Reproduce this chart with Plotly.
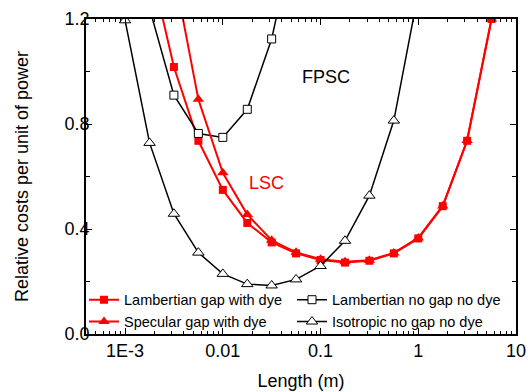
import plotly.graph_objects as go

# ---- data ----
iso_x = [0.001, 0.00178, 0.00316, 0.00562, 0.01, 0.0178, 0.0316, 0.0562, 0.1, 0.178, 0.316, 0.562, 1.0]
iso_y = [1.195, 0.728, 0.458, 0.310, 0.229, 0.190, 0.185, 0.208, 0.259, 0.355, 0.527, 0.813, 1.30]

lam_nogap_x = [0.00178, 0.00316, 0.00562, 0.01, 0.0178, 0.0316, 0.0562]
lam_nogap_y = [1.24, 0.910, 0.764, 0.749, 0.856, 1.124, 1.55]

lam_gap_x = [0.00178, 0.00316, 0.00562, 0.01, 0.0178, 0.0316, 0.0562, 0.1, 0.178, 0.316, 0.562, 1.0, 1.78, 3.16, 5.62]
lam_gap_y = [1.42, 1.017, 0.736, 0.549, 0.423, 0.349, 0.307, 0.282, 0.272, 0.279, 0.307, 0.364, 0.487, 0.736, 1.20]

spec_x = [0.00316, 0.00562, 0.01, 0.0178, 0.0316, 0.0562, 0.1, 0.178, 0.316, 0.562, 1.0, 1.78, 3.16, 5.62]
spec_y = [1.38, 0.894, 0.614, 0.455, 0.357, 0.311, 0.285, 0.275, 0.281, 0.309, 0.366, 0.488, 0.737, 1.20]

x_tickvals = [0.001, 0.01, 0.1, 1, 10]
x_ticktext = ["1E-3", "0.01", "0.1", "1", "10"]
x_minor = [m * 10.0 ** e for e in range(-4, 1) for m in range(2, 10)]
y_tickvals = [0.0, 0.4, 0.8, 1.2]
y_ticktext = ["0.0", "0.4", "0.8", "1.2"]

FONT = "Liberation Sans, Arial, sans-serif"

fig = go.Figure()
fig.add_trace(go.Scatter(x=lam_gap_x, y=lam_gap_y, mode="lines+markers", name="Lambertian gap with dye",
                         line=dict(color="#ff0000", width=2),
                         marker=dict(symbol="square", size=8, color="#ff0000", line=dict(width=0))))
fig.add_trace(go.Scatter(x=lam_nogap_x, y=lam_nogap_y, mode="lines+markers", name="Lambertian no gap no dye",
                         line=dict(color="black", width=1.5),
                         marker=dict(symbol="square", size=8, color="white", line=dict(color="black", width=1))))
fig.add_trace(go.Scatter(x=spec_x, y=spec_y, mode="lines+markers", name="Specular gap with dye",
                         line=dict(color="#ff0000", width=2),
                         marker=dict(symbol="triangle-up", size=10, color="#ff0000", line=dict(width=0))))
fig.add_trace(go.Scatter(x=iso_x, y=iso_y, mode="lines+markers", name="Isotropic no gap no dye",
                         line=dict(color="black", width=1.5),
                         marker=dict(symbol="triangle-up", size=10, color="white", line=dict(color="black", width=1))))

fig.add_annotation(x=-0.945, y=0.979, xref="x", yref="y", text="FPSC", showarrow=False,
                   font=dict(size=18, color="black", family=FONT))
fig.add_annotation(x=-1.558, y=0.575, xref="x", yref="y", text="LSC", showarrow=False,
                   font=dict(size=18, color="#ff0000", family=FONT))

axis_common = dict(showline=True, linecolor="black", linewidth=1.5, mirror="allticks",
                   ticks="inside", ticklen=6, tickwidth=1, tickcolor="black",
                   showgrid=False, zeroline=False, automargin=False,
                   tickfont=dict(size=18, family=FONT, color="black"))

fig.update_xaxes(type="log", range=[-3.4, 1.0], tickmode="array", tickvals=x_tickvals, ticktext=x_ticktext,
                 minor=dict(tickmode="array", tickvals=x_minor, ticks="inside", ticklen=3, tickcolor="black", showgrid=False),
                 title=dict(text="Length (m)", font=dict(size=18, family=FONT, color="black"), standoff=14),
                 **axis_common)
fig.update_yaxes(range=[0, 1.2], tickmode="array", tickvals=y_tickvals, ticktext=y_ticktext,
                 minor=dict(tickmode="array", tickvals=[0.2, 0.6, 1.0], ticks="inside", ticklen=4, tickcolor="black", showgrid=False),
                 ticklabelstandoff=-9,
                 title=dict(text="Relative costs per unit of power", font=dict(size=18, family=FONT, color="black"), standoff=31),
                 **axis_common)

fig.update_layout(
    width=528, height=392,
    margin=dict(l=86, r=12, t=19, b=58),
    paper_bgcolor="white", plot_bgcolor="white",
    font=dict(family=FONT, color="black"),
    legend=dict(orientation="h", x=0, y=-0.012, xanchor="left", yanchor="bottom",
                bgcolor="rgba(0,0,0,0)", borderwidth=0, indentation=-2,
                font=dict(size=14.5, family=FONT, color="black"),
                entrywidth=165, entrywidthmode="pixels",
                tracegroupgap=0, itemsizing="trace"),
    showlegend=True,
)

fig.write_html("out.html", config={"displayModeBar": False},
               post_script="document.body.style.margin='0';")
